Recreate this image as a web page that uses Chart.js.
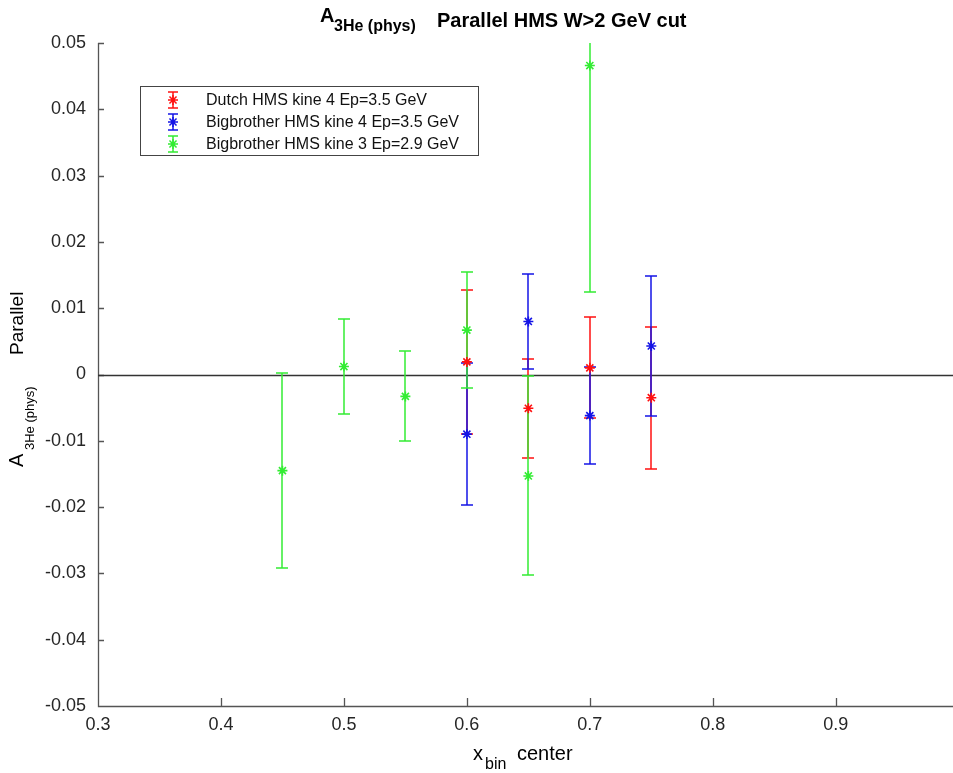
<!DOCTYPE html>
<html>
<head>
<meta charset="utf-8">
<script src="https://cdn.jsdelivr.net/npm/chart.js@4.4.0/dist/chart.umd.min.js"></script>
<style>
  body { margin: 0; background: #fff; }
  #wrap { position: relative; width: 953px; height: 773px; font-family: 'Liberation Sans', Arial, sans-serif; color: #000; }
  #wrap span { position: absolute; white-space: nowrap; line-height: normal; }
  .rot { transform: rotate(-90deg); transform-origin: left top; }
</style>
</head>
<body>
<div id="wrap">
  <canvas id="chart" width="953" height="773"></canvas>
  <span style="left:320px;top:4px;font-weight:bold;font-size:20px">A</span>
  <span style="left:334px;top:17px;font-weight:bold;font-size:16px">3He (phys)</span>
  <span style="left:437px;top:9px;font-weight:bold;font-size:20px">Parallel HMS W&gt;2 GeV cut</span>
  <span style="left:473px;top:742px;font-size:20px">x</span>
  <span style="left:485px;top:755px;font-size:16px">bin</span>
  <span style="left:517px;top:742px;font-size:20px">center</span>
  <span class="rot" style="left:5px;top:467px;font-size:20px">A</span>
  <span class="rot" style="left:22px;top:450px;font-size:13px">3He (phys)</span>
  <span class="rot" style="left:6px;top:355px;font-size:19px">Parallel</span>
</div>
<script>
// Dutch HMS, kine 4
const dutchX = [0.6, 0.65, 0.7, 0.75]
const dutchY = [0.0019, -0.0051, 0.0010, -0.0035]
const dutchErr = [0.0109, 0.0075, 0.0076, 0.0107]

// Bigbrother HMS, kine 4
const bb4X = [0.6, 0.65, 0.7, 0.75]
const bb4Y = [-0.0090, 0.0080, -0.0062, 0.0043]
const bb4Err = [0.0107, 0.0072, 0.0073, 0.0105]

// Bigbrother HMS, kine 3
const bb3X = [0.45, 0.5, 0.55, 0.6, 0.65, 0.7]
const bb3Y = [-0.0145, 0.0012, -0.0033, 0.0067, -0.0153, 0.0466]
const bb3Err = [0.0147, 0.0072, 0.0068, 0.0087, 0.0150, 0.0341]

const labels = [
  'Dutch HMS kine 4 Ep=3.5 GeV',
  'Bigbrother HMS kine 4 Ep=3.5 GeV',
  'Bigbrother HMS kine 3 Ep=2.9 GeV'
]
const colors = ['#ff1010', '#1414e6', '#33ec33']

const xTicks = [0.3, 0.4, 0.5, 0.6, 0.7, 0.8, 0.9]
const FONT = "'Liberation Sans', Arial, sans-serif"

function makeSet(label, color, xs, ys, errs) {
  return {
    label,
    data: xs.map((x, i) => ({ x, y: ys[i] })),
    errors: errs,
    borderColor: color,
    backgroundColor: color,
    pointStyle: 'star',
    pointRadius: 5,
    pointBorderWidth: 1.6,
    showLine: false
  }
}

// vertical error bars with caps, under the markers
const errorBars = {
  id: 'errorBars',
  beforeDatasetsDraw(chart) {
    const { ctx, chartArea: a, scales: { x, y } } = chart
    ctx.save()
    ctx.beginPath()
    ctx.rect(a.left, a.top, a.right - a.left, a.bottom - a.top)
    ctx.clip()
    ctx.lineWidth = 1.5
    chart.data.datasets.forEach(ds => {
      ctx.strokeStyle = ds.borderColor
      ctx.beginPath()
      ds.data.forEach((p, i) => {
        const px = Math.round(x.getPixelForValue(p.x))
        const top = Math.round(y.getPixelForValue(p.y + ds.errors[i]))
        const bot = Math.round(y.getPixelForValue(p.y - ds.errors[i]))
        ctx.moveTo(px, top); ctx.lineTo(px, bot)
        ctx.moveTo(px - 6, top); ctx.lineTo(px + 6, top)
        ctx.moveTo(px - 6, bot); ctx.lineTo(px + 6, bot)
      })
      ctx.stroke()
    })
    ctx.restore()
  }
}

// left/bottom axis lines, inward ticks and the zero line
const axes = {
  id: 'axes',
  beforeDatasetsDraw(chart) {
    const { ctx, chartArea: a, scales: { x, y } } = chart
    const right = chart.width
    ctx.save()
    ctx.lineWidth = 1.3
    ctx.strokeStyle = '#555'
    ctx.beginPath()
    ctx.moveTo(a.left + 0.5, a.top)
    ctx.lineTo(a.left + 0.5, a.bottom + 0.5)
    ctx.lineTo(right, a.bottom + 0.5)
    x.ticks.forEach(t => {
      const px = Math.round(x.getPixelForValue(t.value)) + 0.5
      ctx.moveTo(px, a.bottom); ctx.lineTo(px, a.bottom - 8)
    })
    y.ticks.forEach(t => {
      const py = Math.round(y.getPixelForValue(t.value)) + 0.5
      ctx.moveTo(a.left, py); ctx.lineTo(a.left + 6, py)
    })
    ctx.stroke()
    const y0 = Math.round(y.getPixelForValue(0)) + 0.5
    ctx.strokeStyle = '#333'
    ctx.beginPath()
    ctx.moveTo(a.left, y0); ctx.lineTo(right, y0)
    ctx.stroke()
    ctx.restore()
  }
}

// boxed legend inside the plot, each entry an error bar with its marker
const boxLegend = {
  id: 'boxLegend',
  afterDatasetsDraw(chart) {
    const ctx = chart.ctx
    ctx.save()
    ctx.fillStyle = '#fff'
    ctx.fillRect(140.5, 86.5, 338, 69)
    ctx.strokeStyle = '#444'
    ctx.lineWidth = 1
    ctx.strokeRect(140.5, 86.5, 338, 69)
    ctx.font = '16px ' + FONT
    ctx.textBaseline = 'middle'
    chart.data.datasets.forEach((ds, i) => {
      const cy = 100 + i * 22
      const cx = 173
      ctx.strokeStyle = ds.borderColor
      ctx.fillStyle = ds.borderColor
      ctx.lineWidth = 1.5
      ctx.beginPath()
      ctx.moveTo(cx, cy - 8); ctx.lineTo(cx, cy + 8)
      ctx.moveTo(cx - 5, cy - 8); ctx.lineTo(cx + 5, cy - 8)
      ctx.moveTo(cx - 5, cy + 8); ctx.lineTo(cx + 5, cy + 8)
      ctx.stroke()
      Chart.helpers.drawPoint(ctx, { pointStyle: 'star', radius: 5, borderWidth: 1.6, rotation: 0 }, cx, cy)
      ctx.fillStyle = '#111'
      ctx.fillText(ds.label, 206, cy + 1)
    })
    ctx.restore()
  }
}

new Chart(document.getElementById('chart'), {
  type: 'scatter',
  data: {
    datasets: [
      makeSet(labels[0], colors[0], dutchX, dutchY, dutchErr),
      makeSet(labels[1], colors[1], bb4X, bb4Y, bb4Err),
      makeSet(labels[2], colors[2], bb3X, bb3Y, bb3Err)
    ]
  },
  options: {
    responsive: false,
    animation: false,
    events: [],
    layout: { padding: { top: 43, left: 0, right: 0, bottom: 0 } },
    plugins: {
      legend: { display: false },
      tooltip: { enabled: false },
      title: { display: false }
    },
    scales: {
      x: {
        type: 'linear',
        min: 0.3,
        max: 0.99,
        afterBuildTicks: s => { s.ticks = xTicks.map(v => ({ value: v })) },
        afterFit: s => { s.height = 67 },
        grid: { display: false, drawTicks: false },
        border: { display: false },
        ticks: {
          padding: 8,
          color: '#262626',
          font: { family: FONT, size: 18 },
          maxRotation: 0,
          callback: v => String(+v.toFixed(1))
        }
      },
      y: {
        min: -0.05,
        max: 0.05,
        afterFit: s => { s.width = 98 },
        grid: { display: false, drawTicks: false },
        border: { display: false },
        ticks: {
          stepSize: 0.01,
          padding: 12,
          color: '#262626',
          font: { family: FONT, size: 18 },
          callback: v => String(+v.toFixed(2))
        }
      }
    }
  },
  plugins: [axes, errorBars, boxLegend]
})
</script>
</body>
</html>
